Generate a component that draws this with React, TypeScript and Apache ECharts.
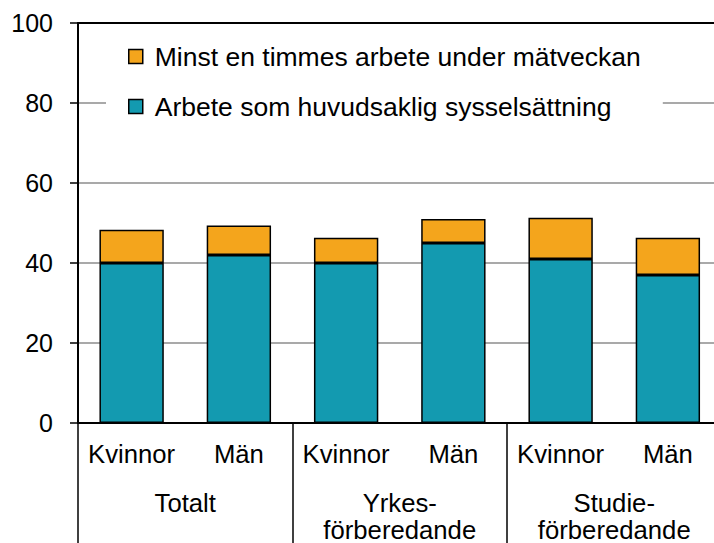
import React, { useEffect, useRef } from "react";
import * as echarts from "echarts";

const categories = ["Kvinnor", "Män", "Kvinnor", "Män", "Kvinnor", "Män"];
const groups = ["Totalt", "Yrkes-\nförberedande", "Studie-\nförberedande"];
const mainWork = [40, 42, 40, 45, 41, 37];
const extraHour = [8.3, 7.4, 6.3, 6.0, 10.3, 9.3];
const yTicks = { min: 0, max: 100, interval: 20 };

const FONT = "Arial, 'Liberation Sans', Helvetica, sans-serif";
const TEAL = "#139AB0";
const ORANGE = "#F4A51C";

export default function App() {
  const ref = useRef<HTMLDivElement>(null);
  useEffect(() => {
    if (!ref.current) return;
    const chart = echarts.init(ref.current, null, { renderer: "svg" });
    chart.setOption({
      animation: false,
      textStyle: { fontFamily: FONT },
      grid: {
        left: 78,
        top: 23,
        bottom: 120,
        right: -7.5,
        containLabel: false,
        outerBoundsMode: "none",
      },
      legend: {
        orient: "vertical",
        left: 106,
        top: 33,
        padding: [10, 22, 10, 22],
        backgroundColor: "#fff",
        itemWidth: 14,
        itemHeight: 14,
        itemGap: 23,
        icon: "rect",
        data: ["Minst en timmes arbete under mätveckan", "Arbete som huvudsaklig sysselsättning"],
        itemStyle: { borderColor: "#000", borderWidth: 1.5 },
        textStyle: {
          fontFamily: FONT,
          fontSize: 26.5,
          color: "#000",
          lineHeight: 24,
          padding: [0, 0, 0, 7],
        },
      },
      xAxis: [
        {
          type: "category",
          data: categories,
          position: "bottom",
          axisLine: { show: true, lineStyle: { color: "#000", width: 2 } },
          axisTick: { show: false },
          axisLabel: { color: "#000", fontSize: 25.7, fontFamily: FONT, margin: 18, interval: 0 },
        },
        {
          type: "category",
          data: groups,
          position: "bottom",
          axisLine: { show: false },
          axisTick: { show: true, length: 120, lineStyle: { color: "#000", width: 1.5 } },
          axisLabel: {
            color: "#000",
            fontSize: 25.7,
            fontFamily: FONT,
            margin: 66,
            lineHeight: 27,
            interval: 0,
          },
        },
        {
          type: "category",
          data: categories,
          position: "top",
          axisLine: { show: true, lineStyle: { color: "#000", width: 2 } },
          axisTick: { show: false },
          axisLabel: { show: false },
        },
      ],
      yAxis: {
        type: "value",
        min: yTicks.min,
        max: yTicks.max,
        interval: yTicks.interval,
        axisLine: { show: true, lineStyle: { color: "#000", width: 2 } },
        axisTick: { show: true, length: 8, lineStyle: { color: "#000", width: 1.5 } },
        axisLabel: { color: "#000", fontSize: 25, fontFamily: FONT, margin: 25 },
        splitLine: { show: true, lineStyle: { color: "#8c8c8c", width: 1.5 } },
      },
      series: [
        {
          name: "Arbete som huvudsaklig sysselsättning",
          type: "bar",
          stack: "total",
          xAxisIndex: 0,
          barWidth: "60%",
          data: mainWork,
          itemStyle: { color: TEAL, borderColor: "#000", borderWidth: 1.5 },
        },
        {
          name: "Minst en timmes arbete under mätveckan",
          type: "bar",
          stack: "total",
          xAxisIndex: 0,
          barWidth: "60%",
          data: extraHour,
          itemStyle: { color: ORANGE, borderColor: "#000", borderWidth: 1.5 },
        },
      ],
    });
    return () => chart.dispose();
  }, []);
  return <div ref={ref} style={{ width: 714, height: 543, position: "absolute", left: 0, top: 0 }} />;
}
